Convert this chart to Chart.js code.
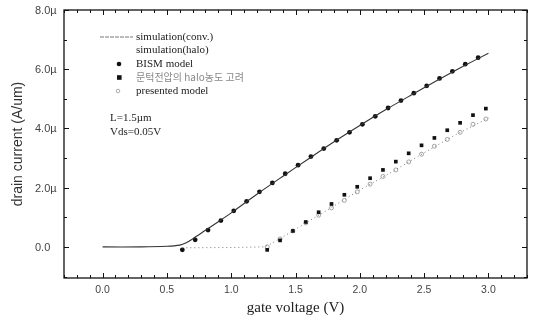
<!DOCTYPE html>
<html>
<head>
<meta charset="utf-8">
<script src="https://cdn.jsdelivr.net/npm/chart.js@4.4.0/dist/chart.umd.min.js"></script>
<style>
  html, body { margin: 0; padding: 0; background: #fff; }
  #wrap { width: 533px; height: 323px; }
</style>
</head>
<body>
<div id="wrap"><canvas id="chart1" width="533" height="323"></canvas></div>
<script>
// drain current in uA/um, gate voltage in V
const convV = [0, 0.3, 0.5, 0.6, 0.65, 0.7, 0.8, 0.9, 1.0, 1.2, 1.4, 1.6, 1.8, 2.0, 2.2, 2.4, 2.6, 2.8, 3.0]
const convI = [0, 0, 0.02, 0.06, 0.14, 0.27, 0.56, 0.85, 1.15, 1.78, 2.38, 2.97, 3.55, 4.1, 4.63, 5.13, 5.62, 6.09, 6.54]

const haloV = [0.62, 1.0, 1.25, 1.3, 1.4, 1.5, 1.75, 2.0, 2.25, 2.5, 2.75, 3.0]
const haloI = [-0.03, -0.02, 0.0, 0.08, 0.33, 0.6, 1.25, 1.92, 2.53, 3.18, 3.8, 4.35]

const bismV = [0.62, 0.72, 0.82, 0.92, 1.02, 1.12, 1.22, 1.32, 1.42, 1.52, 1.62, 1.72,
               1.82, 1.92, 2.02, 2.12, 2.22, 2.32, 2.42, 2.52, 2.62, 2.72, 2.82, 2.92]
const bismI = [-0.1, 0.24, 0.57, 0.89, 1.22, 1.54, 1.86, 2.16, 2.47, 2.76, 3.05, 3.32,
               3.6, 3.87, 4.14, 4.41, 4.69, 4.94, 5.19, 5.44, 5.69, 5.93, 6.17, 6.39]

const haloModelV = [1.28, 1.38, 1.48, 1.58, 1.68, 1.78, 1.88, 1.98, 2.08, 2.18, 2.28, 2.38,
                    2.48, 2.58, 2.68, 2.78, 2.88, 2.98]
const haloModelI = [-0.1, 0.22, 0.54, 0.84, 1.17, 1.45, 1.76, 2.03, 2.32, 2.6, 2.88, 3.16,
                    3.43, 3.68, 3.94, 4.19, 4.45, 4.67]
const presentedI = [0.0, 0.27, 0.54, 0.81, 1.07, 1.32, 1.57, 1.86, 2.12, 2.38, 2.6, 2.87,
                    3.13, 3.4, 3.63, 3.87, 4.14, 4.32]

const xTicks = [0, 0.5, 1.0, 1.5, 2.0, 2.5, 3.0]
const yTicks = [0, 2, 4, 6, 8]
const seriesLabels = ['simulation(conv.)', 'simulation(halo)', 'BISM model',
                      '문턱전압의 halo농도 고려', 'presented model']
const notes = ['L=1.5\u00b5m', 'Vds=0.05V']
const xTitle = 'gate voltage (V)'
const yTitle = 'drain current (A/um)'

const pts = (xs, ys) => xs.map((x, i) => ({x: x, y: ys[i]}))

const serif = '"Liberation Serif", "DejaVu Serif", serif'
const sans = '"Liberation Sans", Arial, sans-serif'

const fmtY = v => v === 0 ? '0.0' : v.toFixed(1) + '\u00b5'

// frame, inward ticks, tick labels, titles, legend and notes
const framePlugin = {
  id: 'frame',
  afterDraw(chart) {
    const ctx = chart.ctx
    const a = chart.chartArea
    const xs = chart.scales.x, ys = chart.scales.y
    ctx.save()
    ctx.strokeStyle = '#111'
    ctx.lineWidth = 1.3
    ctx.strokeRect(a.left, a.top, a.right - a.left, a.bottom - a.top)

    ctx.lineWidth = 1
    for (let k = -3; k <= 33; k++) {
      const v = k / 10
      const px = Math.round(xs.getPixelForValue(v)) + 0.5
      const len = (k % 5 === 0) ? 5 : 3
      ctx.beginPath()
      ctx.moveTo(px, a.bottom); ctx.lineTo(px, a.bottom - len)
      ctx.moveTo(px, a.top); ctx.lineTo(px, a.top + len)
      ctx.stroke()
    }
    for (let v = -1; v <= 8; v++) {
      const py = Math.round(ys.getPixelForValue(v)) + 0.5
      const len = (v % 2 === 0) ? 5 : 3
      ctx.beginPath()
      ctx.moveTo(a.left, py); ctx.lineTo(a.left + len, py)
      ctx.moveTo(a.right, py); ctx.lineTo(a.right - len, py)
      ctx.stroke()
    }

    // tick labels
    ctx.fillStyle = '#444'
    ctx.font = '10.5px ' + sans
    ctx.textBaseline = 'middle'
    ctx.textAlign = 'center'
    xs.ticks.forEach(t => ctx.fillText(t.value.toFixed(1), xs.getPixelForValue(t.value), a.bottom + 12))
    ctx.textAlign = 'left'
    ctx.font = '11px ' + sans
    ys.ticks.forEach(t => ctx.fillText(fmtY(t.value), 35, ys.getPixelForValue(t.value) + 1))

    // axis titles
    ctx.fillStyle = '#222'
    ctx.textAlign = 'center'
    ctx.font = '15px ' + serif
    ctx.fillText(xTitle, (a.left + a.right) / 2, 308)
    ctx.save()
    ctx.translate(18, (a.top + a.bottom) / 2)
    ctx.rotate(-Math.PI / 2)
    ctx.fillStyle = '#333'
    ctx.font = '14px ' + sans
    ctx.fillText(yTitle, 0, 0)
    ctx.restore()

    // legend
    ctx.textAlign = 'left'
    const lx = 136
    seriesLabels.forEach((lab, i) => {
      const y = 37 + i * 13.5
      if (i === 0) {
        ctx.strokeStyle = '#777'
        ctx.setLineDash([4, 1])
        ctx.beginPath(); ctx.moveTo(100, y); ctx.lineTo(133, y); ctx.stroke()
        ctx.setLineDash([])
      } else if (i === 2) {
        ctx.fillStyle = '#111'
        ctx.beginPath(); ctx.arc(119, y, 2.3, 0, Math.PI * 2); ctx.fill()
      } else if (i === 3) {
        ctx.fillStyle = '#111'
        ctx.fillRect(117, y - 2.3, 4.6, 4.6)
      } else if (i === 4) {
        ctx.strokeStyle = '#aaa'
        ctx.beginPath(); ctx.arc(118, y, 1.8, 0, Math.PI * 2); ctx.stroke()
      }
      ctx.fillStyle = i === 3 ? '#888' : '#222'
      ctx.font = i === 3 ? '10px "Noto Sans CJK KR", ' + serif : '11px ' + serif
      ctx.fillText(lab, lx, y)
    })
    ctx.fillStyle = '#222'
    ctx.font = '11px ' + serif
    notes.forEach((t, i) => ctx.fillText(t, lx - 26, 118 + i * 14))
    ctx.restore()
  }
}

const chart = new Chart(document.getElementById('chart1').getContext('2d'), {
  type: 'scatter',
  data: {
    datasets: [
      {
        label: seriesLabels[0],
        data: pts(convV, convI),
        showLine: true,
        borderColor: '#333',
        borderWidth: 1.1,
        pointRadius: 0,
        tension: 0.3
      },
      {
        label: seriesLabels[1],
        data: pts(haloV, haloI),
        showLine: true,
        borderColor: '#777',
        borderWidth: 1,
        borderDash: [1, 3],
        pointRadius: 0
      },
      {
        label: seriesLabels[2],
        data: pts(bismV, bismI),
        pointStyle: 'circle',
        pointRadius: 2.4,
        backgroundColor: '#111',
        borderColor: '#111',
        borderWidth: 0
      },
      {
        label: seriesLabels[3],
        data: pts(haloModelV, haloModelI),
        pointStyle: 'rect',
        pointRadius: 2.6,
        backgroundColor: '#111',
        borderColor: '#111',
        borderWidth: 0
      },
      {
        label: seriesLabels[4],
        data: pts(haloModelV, presentedI),
        pointStyle: 'circle',
        pointRadius: 2,
        backgroundColor: 'rgba(255,255,255,0)',
        borderColor: '#999',
        borderWidth: 0.9
      }
    ]
  },
  plugins: [framePlugin],
  options: {
    responsive: false,
    animation: false,
    layout: { padding: { top: 10, right: 6, left: 0, bottom: 0 } },
    plugins: {
      legend: { display: false },
      tooltip: { enabled: false }
    },
    scales: {
      x: {
        type: 'linear',
        min: -0.3,
        max: 3.3,
        grid: { display: false },
        border: { display: false },
        afterBuildTicks: s => { s.ticks = xTicks.map(v => ({value: v})) },
        afterFit: s => { s.height = 45 },
        ticks: { display: false }
      },
      y: {
        type: 'linear',
        min: -1.05,
        max: 8,
        grid: { display: false },
        border: { display: false },
        afterBuildTicks: s => { s.ticks = yTicks.map(v => ({value: v})) },
        afterFit: s => { s.width = 64 },
        ticks: { display: false }
      }
    }
  }
})
</script>
</body>
</html>
